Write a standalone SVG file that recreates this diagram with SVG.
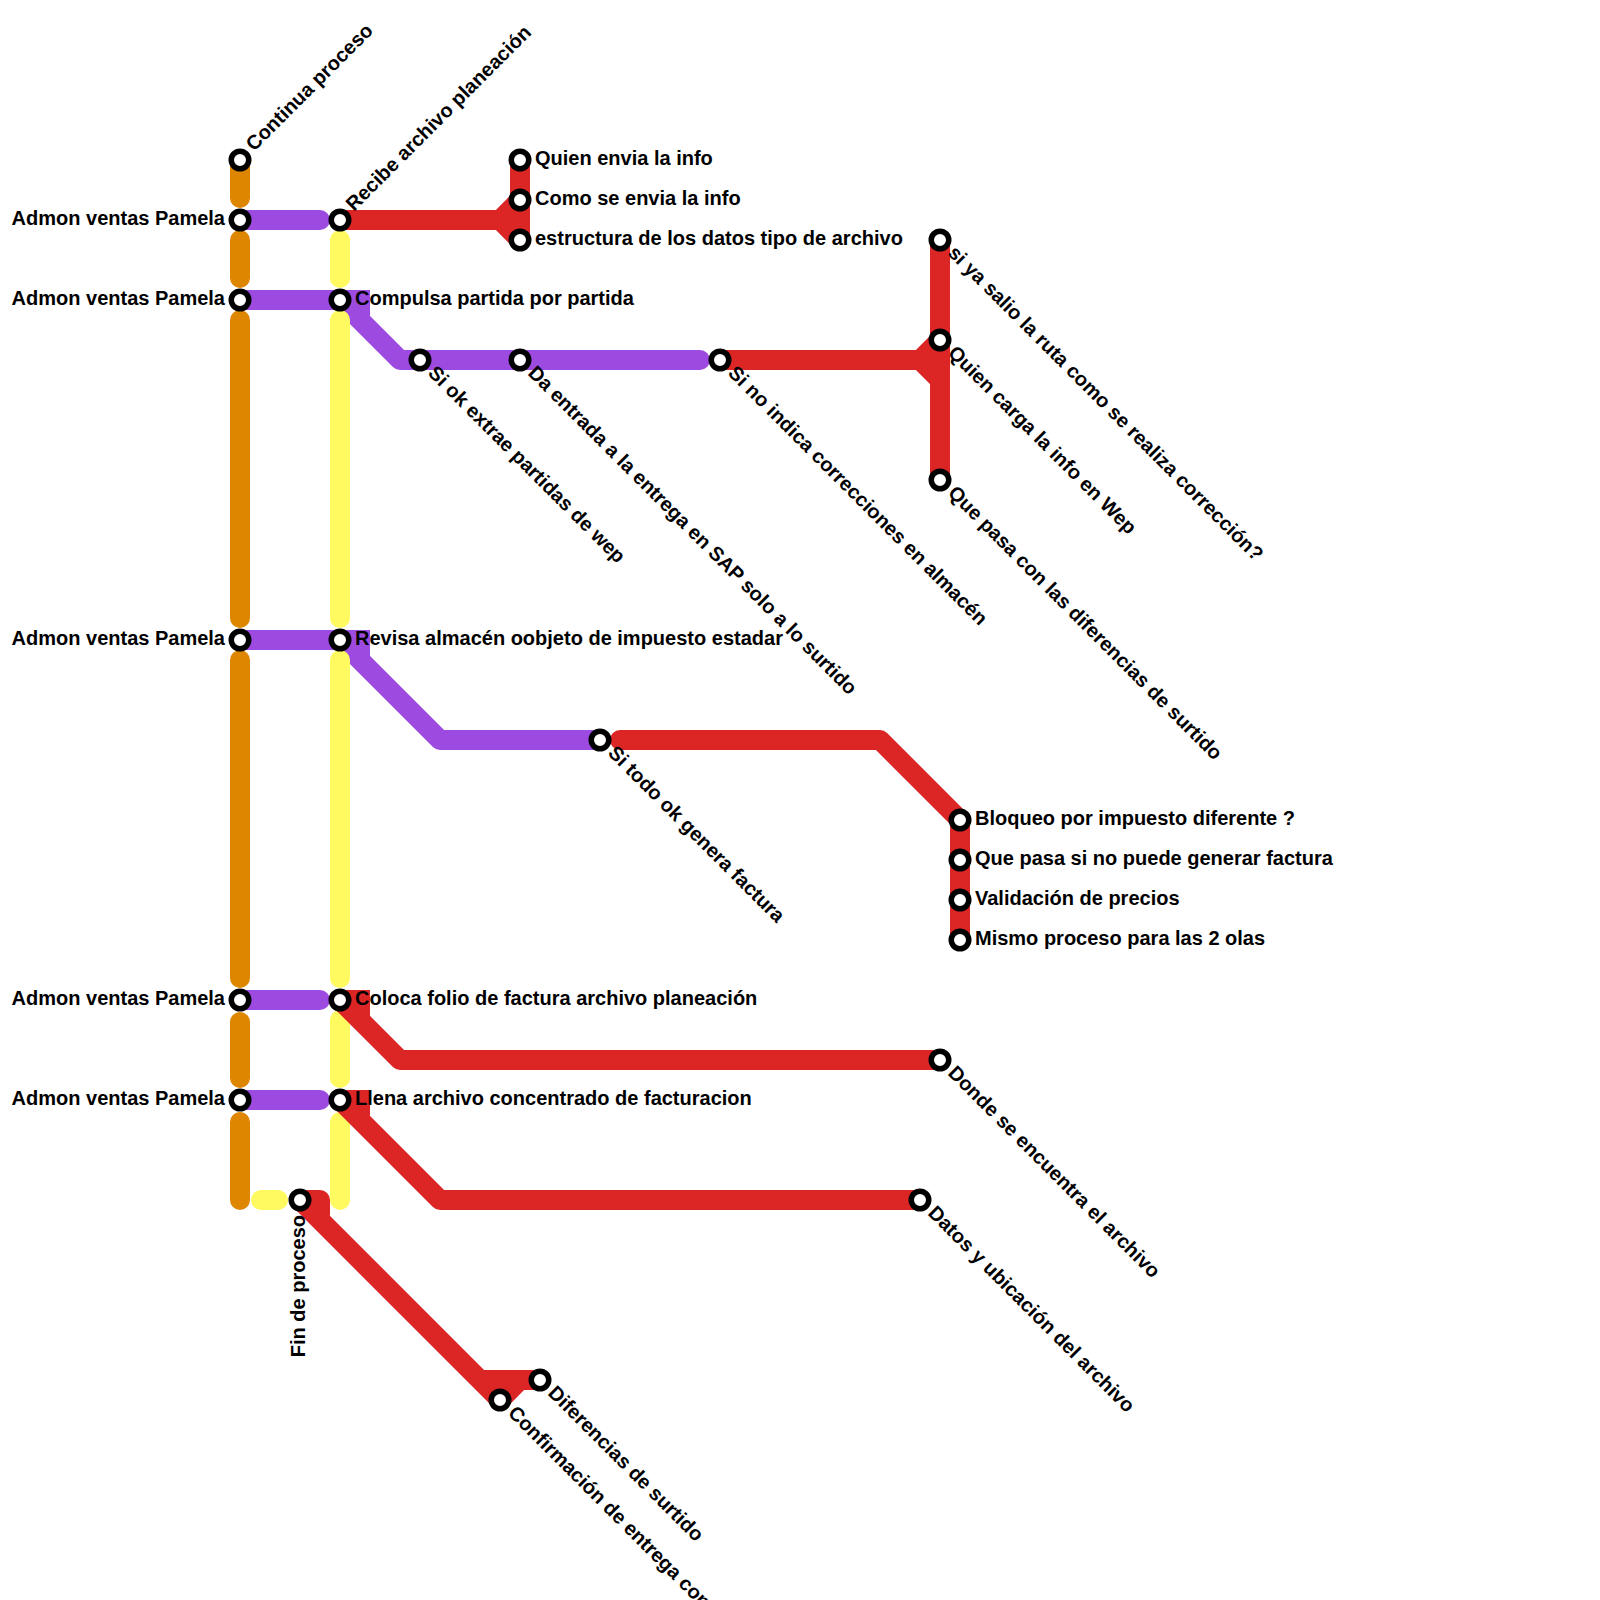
<svg xmlns="http://www.w3.org/2000/svg" width="1600" height="1600" viewBox="0 0 1600 1600">
<style>
.l{fill:none;stroke-width:20;stroke-linecap:round;stroke-linejoin:round}
.o{stroke:#df8600}.p{stroke:#9d4ae0}.y{stroke:#fffa5f}.r{stroke:#dc2626}
.fp{fill:#9d4ae0}.fr{fill:#dc2626}
circle{fill:#fff;stroke:#000;stroke-width:5.5}
text{font-family:"Liberation Sans",Arial,sans-serif;font-weight:700;font-size:20px;fill:#000}
.w{text-anchor:end}
</style>
<rect width="1600" height="1600" fill="#fff"/>
<g id="connectors">
<g id="line-orange">
<path class="l o" d="M240 160V198M240 240V278M240 320V618M240 660V978M240 1022V1078M240 1122V1200"/>
</g>
<g id="line-purple">
<path class="l p" d="M240 220H320M240 300H340L400 360H700M240 640H340L440 740H600M240 1000H320M240 1100H320"/>
<path class="fp" d="M340 290H370V316L340 300ZM340 630H370V656L340 640Z"/>
</g>
<g id="line-yellow">
<path class="l y" d="M340 240V278M340 320V618M340 660V978M340 1020V1078M340 1122V1200M261 1200H278"/>
</g>
<g id="line-red">
<path class="l r" d="M340 220H500M520 160V240M500 220L520 200M500 220L520 240M720 360H920M940 240V480M920 360L940 340M920 360L940 380M620 740H880L960 820V940M340 1000L400 1060H940M340 1100L440 1200H920M300 1200L500 1400L520 1380H540M480 1380H540"/>
<path class="fr" d="M340 990H370V1016L340 1000ZM340 1090H370V1116L340 1100ZM300 1190H320A10 10 0 0 1 330 1200V1216L300 1200Z"/>
</g>
</g>
<g id="s1"><circle cx="240" cy="160" r="8.75"/><text x="254" y="152" transform="rotate(-45 254 152)">Continua proceso</text></g>
<g id="s2"><circle cx="240" cy="220" r="8.75"/><text class="w" x="225" y="225">Admon ventas Pamela</text></g>
<g id="s3"><circle cx="240" cy="300" r="8.75"/><text class="w" x="225" y="305">Admon ventas Pamela</text></g>
<g id="s4"><circle cx="240" cy="640" r="8.75"/><text class="w" x="225" y="645">Admon ventas Pamela</text></g>
<g id="s5"><circle cx="240" cy="1000" r="8.75"/><text class="w" x="225" y="1005">Admon ventas Pamela</text></g>
<g id="s6"><circle cx="240" cy="1100" r="8.75"/><text class="w" x="225" y="1105">Admon ventas Pamela</text></g>
<g id="s7"><circle cx="340" cy="220" r="8.75"/><text x="354" y="212" transform="rotate(-45 354 212)">Recibe archivo planeación</text></g>
<g id="s8"><circle cx="340" cy="300" r="8.75"/><text x="355" y="305">Compulsa partida por partida</text></g>
<g id="s9"><circle cx="340" cy="640" r="8.75"/><text x="355" y="645">Revisa almacén oobjeto de impuesto estadar</text></g>
<g id="s10"><circle cx="340" cy="1000" r="8.75"/><text x="355" y="1005">Coloca folio de factura archivo planeación</text></g>
<g id="s11"><circle cx="340" cy="1100" r="8.75"/><text x="355" y="1105">Llena archivo concentrado de facturacion</text></g>
<g id="s12"><circle cx="300" cy="1200" r="8.75"/><text class="w" x="305" y="1215" transform="rotate(-90 305 1215)">Fin de proceso</text></g>
<g id="s13"><circle cx="520" cy="160" r="8.75"/><text x="535" y="165">Quien envia la info</text></g>
<g id="s14"><circle cx="520" cy="200" r="8.75"/><text x="535" y="205">Como se envia la info</text></g>
<g id="s15"><circle cx="520" cy="240" r="8.75"/><text x="535" y="245">estructura de los datos tipo de archivo</text></g>
<g id="s16"><circle cx="420" cy="360" r="8.75"/><text x="427" y="374" transform="rotate(45 427 374)">Si ok extrae partidas de wep</text></g>
<g id="s17"><circle cx="520" cy="360" r="8.75"/><text x="527" y="374" transform="rotate(45 527 374)">Da entrada a la entrega en SAP solo a lo surtido</text></g>
<g id="s18"><circle cx="720" cy="360" r="8.75"/><text x="727" y="374" transform="rotate(45 727 374)">Si no indica correcciones en almacén</text></g>
<g id="s19"><circle cx="940" cy="240" r="8.75"/><text x="947" y="254" transform="rotate(45 947 254)">si ya salio la ruta como se realiza corrección?</text></g>
<g id="s20"><circle cx="940" cy="340" r="8.75"/><text x="947" y="354" transform="rotate(45 947 354)">Quien carga la info en Wep</text></g>
<g id="s21"><circle cx="940" cy="480" r="8.75"/><text x="947" y="494" transform="rotate(45 947 494)">Que pasa con las diferencias de surtido</text></g>
<g id="s22"><circle cx="600" cy="740" r="8.75"/><text x="607" y="754" transform="rotate(45 607 754)">Si todo ok genera factura</text></g>
<g id="s23"><circle cx="960" cy="820" r="8.75"/><text x="975" y="825">Bloqueo por impuesto diferente ?</text></g>
<g id="s24"><circle cx="960" cy="860" r="8.75"/><text x="975" y="865">Que pasa si no puede generar factura</text></g>
<g id="s25"><circle cx="960" cy="900" r="8.75"/><text x="975" y="905">Validación de precios</text></g>
<g id="s26"><circle cx="960" cy="940" r="8.75"/><text x="975" y="945">Mismo proceso para las 2 olas</text></g>
<g id="s27"><circle cx="940" cy="1060" r="8.75"/><text x="947" y="1074" transform="rotate(45 947 1074)">Donde se encuentra el archivo</text></g>
<g id="s28"><circle cx="920" cy="1200" r="8.75"/><text x="927" y="1214" transform="rotate(45 927 1214)">Datos y ubicación del archivo</text></g>
<g id="s29"><circle cx="500" cy="1400" r="8.75"/><text x="507" y="1414" transform="rotate(45 507 1414)">Confirmación de entrega con</text></g>
<g id="s30"><circle cx="540" cy="1380" r="8.75"/><text x="547" y="1394" transform="rotate(45 547 1394)">Diferencias de surtido</text></g>
</svg>
